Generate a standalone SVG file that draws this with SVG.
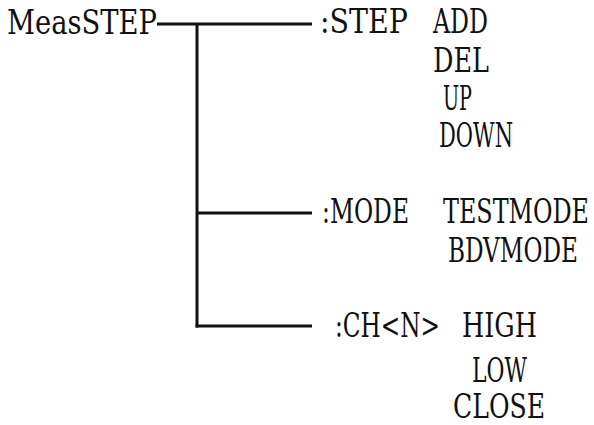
<svg xmlns="http://www.w3.org/2000/svg" width="594" height="425" viewBox="0 0 594 425">
<style>
.t{font-family:'DejaVu Serif Condensed','DejaVu Serif','Liberation Serif',serif;font-size:33px;fill:#111}
.c line{stroke:#111;stroke-width:3;fill:none}
</style>
<rect width="594" height="425" fill="#fff"/>
<g id="root"><text class="t" x="7" y="34" textLength="150" lengthAdjust="spacingAndGlyphs">MeasSTEP</text></g>
<g class="c" id="connectors">
<line x1="157" y1="24" x2="312" y2="24"/>
<line x1="197" y1="24" x2="197" y2="327.5"/>
<line x1="197" y1="213" x2="312" y2="213"/>
<line x1="195.5" y1="326" x2="312" y2="326"/>
</g>
<g id="step">
<text class="t" x="320" y="33" textLength="88" lengthAdjust="spacingAndGlyphs">:STEP</text>
<text class="t" x="433" y="33" textLength="55" lengthAdjust="spacingAndGlyphs">ADD</text>
<text class="t" x="433" y="72" textLength="56" lengthAdjust="spacingAndGlyphs">DEL</text>
<text class="t" x="443" y="110" textLength="29" lengthAdjust="spacingAndGlyphs">UP</text>
<text class="t" x="439" y="147" textLength="74" lengthAdjust="spacingAndGlyphs">DOWN</text>
</g>
<g id="mode">
<text class="t" x="322" y="223" textLength="87" lengthAdjust="spacingAndGlyphs">:MODE</text>
<text class="t" transform="translate(443,223) scale(0.75,1)" x="0" y="0" textLength="194.7" lengthAdjust="spacingAndGlyphs">TESTMODE</text>
<text class="t" transform="translate(448,262) scale(0.75,1)" x="0" y="0" textLength="173.3" lengthAdjust="spacingAndGlyphs">BDVMODE</text>
</g>
<g id="ch">
<text class="t" x="335" y="337" textLength="105" lengthAdjust="spacingAndGlyphs">:CH&lt;N&gt;</text>
<text class="t" x="462" y="337" textLength="75" lengthAdjust="spacingAndGlyphs">HIGH</text>
<text class="t" x="472" y="382" textLength="55" lengthAdjust="spacingAndGlyphs">LOW</text>
<text class="t" x="453" y="418" textLength="92" lengthAdjust="spacingAndGlyphs">CLOSE</text>
</g>
</svg>
